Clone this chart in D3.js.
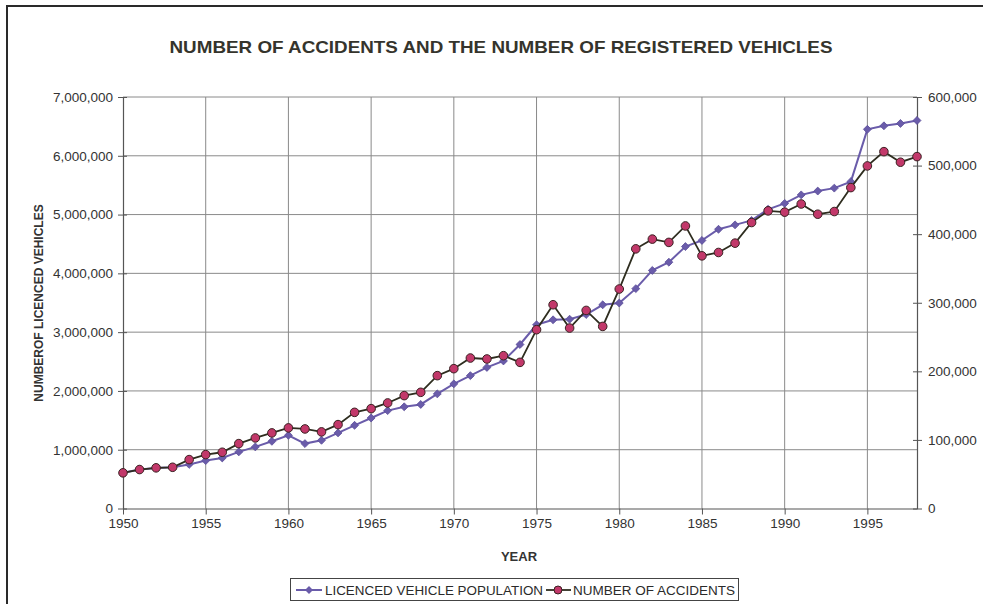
<!DOCTYPE html>
<html>
<head>
<meta charset="utf-8">
<script src="https://cdn.jsdelivr.net/npm/d3@7"></script>
<style>
  body { margin: 0; background: #fff; }
  svg { display: block; font-family: "Liberation Sans", Arial, sans-serif; }
  .tick text { fill: #333; font-size: 13.5px; }
</style>
</head>
<body>
<svg width="983" height="604"></svg>
<script>
// data
var years = [1950,1951,1952,1953,1954,1955,1956,1957,1958,1959,
             1960,1961,1962,1963,1964,1965,1966,1967,1968,1969,
             1970,1971,1972,1973,1974,1975,1976,1977,1978,1979,
             1980,1981,1982,1983,1984,1985,1986,1987,1988,1989,
             1990,1991,1992,1993,1994,1995,1996,1997,1998];

var vehicles = [607000,663000,690000,700000,750000,815000,860000,963000,1048000,1143000,
                1245000,1104000,1160000,1286000,1415000,1540000,1665000,1730000,1770000,1950000,
                2120000,2260000,2400000,2510000,2790000,3126000,3210000,3220000,3300000,3465000,
                3495000,3740000,4050000,4190000,4456000,4560000,4750000,4825000,4900000,5090000,
                5190000,5335000,5400000,5450000,5560000,6450000,6510000,6550000,6600000];

var accidents = [52000,56800,59300,60100,71300,78600,82000,94600,102900,110200,
                 117500,116000,111700,122300,140200,145600,153900,164600,169400,193700,
                 203900,219400,218000,222800,213100,260700,297100,263100,288800,265500,
                 320000,378600,392800,388000,412000,368400,373300,386900,417000,434000,
                 432100,444000,429100,433000,467900,499500,520300,504900,513100];

var leftTicks = [0,1000000,2000000,3000000,4000000,5000000,6000000,7000000];
var rightTicks = [0,100000,200000,300000,400000,500000,600000];
var yearTicks = [1950,1955,1960,1965,1970,1975,1980,1985,1990,1995];

var svg = d3.select("svg");

var x = d3.scaleLinear().domain([1950, 1998]).range([123, 917]);
var yL = d3.scaleLinear().domain([0, 7000000]).range([508.5, 97]);
var yR = d3.scaleLinear().domain([0, 600000]).range([508.5, 97]);

// outer frame (top + left edges only visible)
svg.append("path")
  .attr("d", "M7,604 L7,6 L983,6")
  .attr("fill", "none")
  .attr("stroke", "#2a2a2a")
  .attr("stroke-width", 2);

// title
svg.append("text")
  .attr("x", 501)
  .attr("y", 53)
  .attr("text-anchor", "middle")
  .attr("font-size", 17)
  .attr("font-weight", "bold")
  .attr("fill", "#35342c")
  .attr("textLength", 663)
  .attr("lengthAdjust", "spacingAndGlyphs")
  .text("NUMBER OF ACCIDENTS AND THE NUMBER OF REGISTERED VEHICLES");

// grid
var grid = svg.append("g").attr("stroke", "#8a8a8a").attr("stroke-width", 1);
grid.selectAll(".h")
  .data(leftTicks.slice(1))
  .enter().append("line")
  .attr("x1", x(1950)).attr("x2", x(1998))
  .attr("y1", function(d) { return yL(d); })
  .attr("y2", function(d) { return yL(d); });
grid.selectAll(".v")
  .data(yearTicks.slice(1))
  .enter().append("line")
  .attr("y1", yL(0)).attr("y2", yL(7000000))
  .attr("x1", function(d) { return x(d); })
  .attr("x2", function(d) { return x(d); });

// axes
var leftAxis = svg.append("g")
  .attr("transform", "translate(" + x(1950) + ",0)")
  .call(d3.axisLeft(yL).tickValues(leftTicks).tickFormat(d3.format(",")).tickSizeInner(5).tickSizeOuter(0).tickPadding(5));
leftAxis.selectAll(".tick line").attr("x1", 4);

var rightAxis = svg.append("g")
  .attr("transform", "translate(" + x(1998) + ",0)")
  .call(d3.axisRight(yR).tickValues(rightTicks).tickFormat(d3.format(",")).tickSizeInner(5).tickSizeOuter(0).tickPadding(6));
rightAxis.selectAll(".tick line").attr("x1", -4);

var bottomAxis = svg.append("g")
  .attr("transform", "translate(0," + yL(0) + ")")
  .call(d3.axisBottom(x).tickValues(yearTicks).tickFormat(d3.format("d")).tickSizeInner(6).tickSizeOuter(0).tickPadding(4));

[leftAxis, rightAxis, bottomAxis].forEach(function(a) {
  a.select(".domain").attr("stroke", "#555").attr("stroke-width", 1.2);
  a.selectAll(".tick line").attr("stroke", "#555");
});

// axis titles
svg.append("text")
  .attr("x", 519)
  .attr("y", 561)
  .attr("text-anchor", "middle")
  .attr("font-size", 13)
  .attr("font-weight", "bold")
  .attr("fill", "#333")
  .text("YEAR");

svg.append("text")
  .attr("transform", "translate(43,303) rotate(-90)")
  .attr("text-anchor", "middle")
  .attr("font-size", 12)
  .attr("font-weight", "bold")
  .attr("fill", "#333")
  .text("NUMBEROF LICENCED VEHICLES");

// series
var purple = "#6a5caa";
var dark = "#2e2d1f";
var red = "#c2386a";

var vLine = d3.line()
  .x(function(d, i) { return x(years[i]); })
  .y(function(d) { return yL(d); });
var aLine = d3.line()
  .x(function(d, i) { return x(years[i]); })
  .y(function(d) { return yR(d); });

svg.append("path")
  .datum(vehicles)
  .attr("d", vLine)
  .attr("fill", "none")
  .attr("stroke", purple)
  .attr("stroke-width", 2);

var diamond = d3.symbol().type(d3.symbolDiamond2).size(40);
svg.append("g").selectAll("path")
  .data(vehicles)
  .enter().append("path")
  .attr("d", diamond)
  .attr("transform", function(d, i) { return "translate(" + x(years[i]) + "," + yL(d) + ")"; })
  .attr("fill", purple)
  .attr("stroke", "#5a4c98")
  .attr("stroke-width", 0.8);

svg.append("path")
  .datum(accidents)
  .attr("d", aLine)
  .attr("fill", "none")
  .attr("stroke", dark)
  .attr("stroke-width", 1.8);

svg.append("g").selectAll("circle")
  .data(accidents)
  .enter().append("circle")
  .attr("cx", function(d, i) { return x(years[i]); })
  .attr("cy", function(d) { return yR(d); })
  .attr("r", 4.3)
  .attr("fill", red)
  .attr("stroke", "#3a2222")
  .attr("stroke-width", 1);

// legend
var legend = svg.append("g");
legend.append("rect")
  .attr("x", 290.5).attr("y", 578.5)
  .attr("width", 448).attr("height", 22)
  .attr("fill", "#fff")
  .attr("stroke", "#444")
  .attr("stroke-width", 1);

legend.append("line")
  .attr("x1", 296).attr("x2", 322).attr("y1", 590).attr("y2", 590)
  .attr("stroke", purple).attr("stroke-width", 2);
legend.append("path")
  .attr("d", diamond)
  .attr("transform", "translate(309,590)")
  .attr("fill", purple);
legend.append("text")
  .attr("x", 325).attr("y", 595)
  .attr("font-size", 12.5)
  .attr("fill", "#2a2a2a")
  .attr("textLength", 218)
  .attr("lengthAdjust", "spacingAndGlyphs")
  .text("LICENCED VEHICLE POPULATION");

legend.append("line")
  .attr("x1", 546).attr("x2", 571).attr("y1", 590).attr("y2", 590)
  .attr("stroke", dark).attr("stroke-width", 1.8);
legend.append("circle")
  .attr("cx", 558).attr("cy", 590).attr("r", 4)
  .attr("fill", red).attr("stroke", "#3a2222");
legend.append("text")
  .attr("x", 573).attr("y", 595)
  .attr("font-size", 12.5)
  .attr("fill", "#2a2a2a")
  .attr("textLength", 162)
  .attr("lengthAdjust", "spacingAndGlyphs")
  .text("NUMBER OF ACCIDENTS");
</script>
</body>
</html>
